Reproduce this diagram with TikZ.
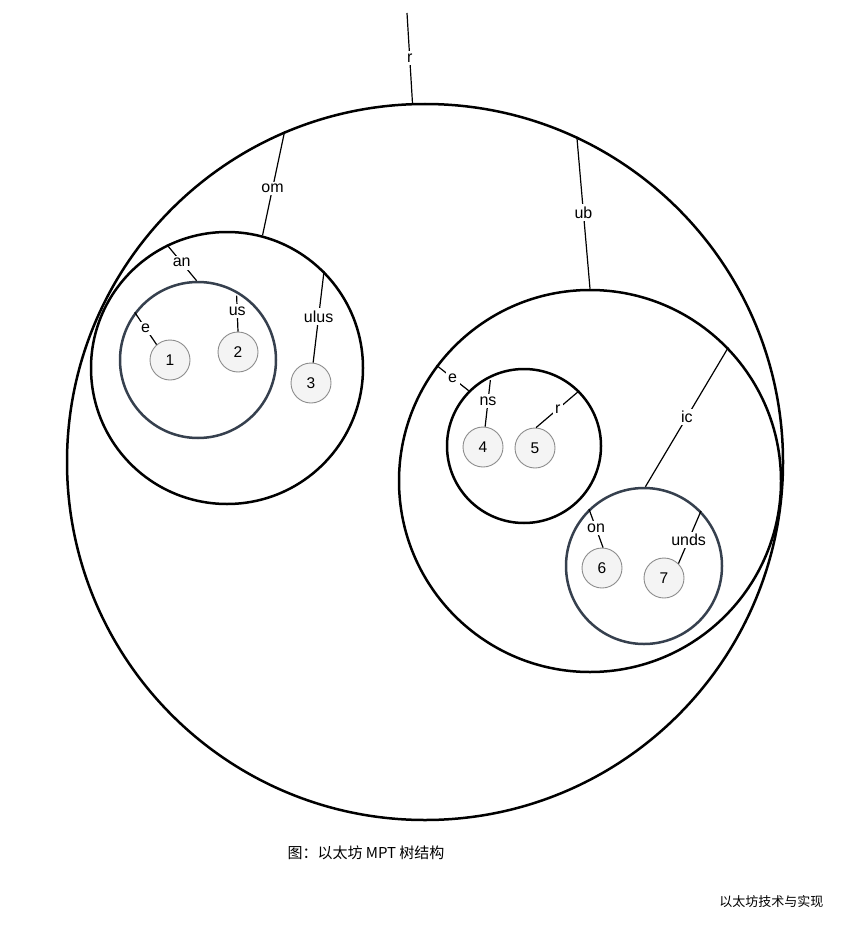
\documentclass[tikz,border=0pt]{standalone}
\usepackage{fontspec}
\setmainfont{Liberation Sans}
\newfontfamily\cjk{Noto Sans CJK SC}
\definecolor{slate}{HTML}{36404E}
\definecolor{leafgray}{HTML}{F4F4F4}
\begin{document}
\begin{tikzpicture}[x=1pt,y=-1pt,
	trie/.style={circle,draw,line width=2.5pt,inner sep=0pt},
	ext/.style={trie,draw=slate},
	leaf/.style={circle,draw=gray!90,fill=leafgray,line width=0.9pt,minimum size=40pt,inner sep=0pt,font=\fontsize{15.5}{18}\selectfont},
	lbl/.style={fill=white,inner sep=2.5pt,font=\fontsize{16}{18}\selectfont},
	edge/.style={line width=1.2pt}]
	\useasboundingbox (0,0) rectangle (854,936);
	% branch circles
	\node[trie,minimum size=716pt] (root) at (425,462) {};
	\node[trie,minimum size=272pt] (om) at (227,368) {};
	\node[ext,minimum size=156pt] (an) at (198,360) {};
	\node[trie,minimum size=382pt] (ub) at (590,481) {};
	\node[trie,minimum size=154pt] (ns) at (524,446) {};
	\node[ext,minimum size=156pt] (ic) at (644,566) {};
	% leaves
	\node[leaf] (n1) at (170,360) {1};
	\node[leaf] (n2) at (238,352) {2};
	\node[leaf] (n3) at (311,383) {3};
	\node[leaf] (n4) at (483,447) {4};
	\node[leaf] (n5) at (535,448) {5};
	\node[leaf] (n6) at (602,568) {6};
	\node[leaf] (n7) at (664,578) {7};
	\coordinate (top) at (407,13);
	% edges
	\draw[edge] (top) -- node[lbl]{r} (root.92);
	\draw[edge] (root.113) -- node[lbl,pos=0.55]{om} (om.75);
	\draw[edge] (root.65) -- node[lbl]{ub} (ub.90);
	\draw[edge] (om.116) -- node[lbl]{an} (an.91);
	\draw[edge] (om.45) -- node[lbl]{ulus} (n3.84);
	\draw[edge] (an.143) -- node[lbl]{e} (n1.131);
	\draw[edge,shorten <=5pt] (an.61) -- node[lbl]{us} (n2.north);
	\draw[edge] (ub.143) -- node[lbl]{e} (ns.135);
	\draw[edge] (ub.44) -- node[lbl]{ic} (ic.89);
	\draw[edge,shorten <=5pt] (ns.115) -- node[lbl]{ns} (n4.84);
	\draw[edge] (ns.45) -- node[lbl]{r} (n5.87);
	\draw[edge] (ic.134) -- node[lbl]{on} (n6.87);
	\draw[edge] (ic.44) -- node[lbl,pos=0.55]{unds} (n7.45);
	% caption
	\node[font=\cjk\fontsize{15}{18}\selectfont] (cap) at (366,853) {图：以太坊 MPT 树结构};
	\node[font=\cjk\fontsize{13}{16}\selectfont,anchor=east] (mark) at (827,902) {以太坊技术与实现};
\end{tikzpicture}
\end{document}
